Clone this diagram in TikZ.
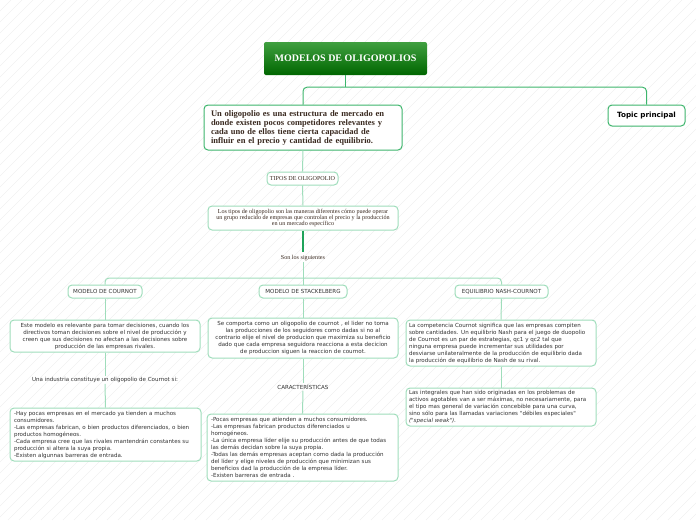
\documentclass[tikz,border=0pt]{standalone}
\usepackage{fontspec}
\setmainfont{Liberation Serif}
\newfontfamily\verd{DejaVu Sans}
\usetikzlibrary{positioning}
\definecolor{ink}{HTML}{3A2A20}
\definecolor{txt}{HTML}{333333}
\definecolor{mint}{HTML}{9FDDBB}
\definecolor{leaf}{HTML}{3DB56C}
\definecolor{deep}{HTML}{1FA35A}

\begin{document}
\begin{tikzpicture}[x=1pt, y=-1pt,
  hatch/.style={draw=black!6, line width=0.5pt},
  mainbox/.style={draw=leaf, line width=1pt, rounded corners=4pt, fill=white},
  subbox/.style={draw=mint, line width=1pt, rounded corners=4pt, fill=white, inner sep=2pt},
  sans/.style={font=\verd\fontsize{5.55}{7}\selectfont, text=txt},
  serifsmall/.style={font=\fontsize{6.1}{6}\selectfont, text=ink},
  link/.style={draw=mint, line width=1pt, rounded corners=4pt},
  toplink/.style={draw=leaf, line width=1pt, rounded corners=4pt}]
\useasboundingbox (0,0) rectangle (696,520);
\begin{scope}
\clip (0,0) rectangle (696,520);
\foreach \i in {0,11,...,1221} \draw[hatch] (\i,0) -- ++(-520,520);
\end{scope}

\node[rounded corners=2pt, top color=green!50!black!75!white, bottom color=green!40!black,
  minimum width=163pt, minimum height=33pt, text=white,
  font=\bfseries\fontsize{10}{11}\selectfont] (title) at (345.5,58.5) {MODELOS DE OLIGOPOLIOS};

\node[mainbox, text width=184pt, minimum width=198pt, minimum height=45pt, align=left,
  text=ink, font=\bfseries\fontsize{8.5}{9}\selectfont] (def) at (303,127.5)
  {Un oligopolio es una estructura de mercado en\\
   donde existen pocos competidores relevantes y\\
   cada uno de ellos tiene cierta capacidad de\\
   influir en el precio y cantidad de equilibrio.};
\node[mainbox, minimum width=77pt, minimum height=21pt,
  font=\verd\bfseries\fontsize{7.2}{8}\selectfont] (topic) at (646.5,115.5) {Topic principal};

\node[subbox, serifsmall, minimum width=71pt, minimum height=13pt] (tipos) at (302.5,178.5) {TIPOS DE OLIGOPOLIO};
\node[subbox, serifsmall, minimum width=190pt, minimum height=24pt, align=center] (lostipos) at (303,218)
  {Los tipos de oligopolio son las maneras diferentes cómo puede operar\\
   un grupo reducido de empresas que controlan el precio y la producción\\
   en un mercado específico};
\node[serifsmall, inner sep=1pt] (sonlos) at (303,258) {Son los siguientes};

\node[subbox, sans, minimum width=74pt, minimum height=13pt] (cournot) at (105,291.5) {MODELO DE COURNOT};
\node[subbox, sans, minimum width=88pt, minimum height=13pt] (stack) at (303,291.5) {MODELO DE STACKELBERG};
\node[subbox, sans, minimum width=93pt, minimum height=13pt] (nash) at (501.5,291.5) {EQUILIBRIO NASH-COURNOT};

\node[subbox, sans, text width=184pt, minimum width=190pt, minimum height=32pt, align=center] (cdesc) at (105,336)
  {Este modelo es relevante para tomar decisiones, cuando los\\
   directivos toman decisiones sobre el nivel de producción y\\
   creen que sus decisiones no afectan a las decisiones sobre\\
   producción de las empresas rivales.};
\node[sans, inner sep=1pt] (cind) at (105,380) {Una industria constituye un oligopolio de Cournot si:};
\node[subbox, sans, text width=183pt, minimum width=191pt, minimum height=53pt, align=left] (clist) at (105.5,434.5)
  {-Hay pocas empresas en el mercado ya tienden a muchos\\
   consumidores.\\
   -Las empresas fabrican, o bien productos diferenciados, o bien\\
   productos homogéneos.\\
   -Cada empresa cree que las rivales mantendrán constantes su\\
   producción si altera la suya propia.\\
   -Existen algunnas barreras de entrada.};

\node[subbox, sans, text width=184pt, minimum width=190pt, minimum height=40pt, align=center] (sdesc) at (303,338)
  {Se comporta como un oligopolio de cournot , el lider no toma\\
   las producciones de los seguidores como dadas si no al\\
   contrario elije el nivel de producion que maximiza su beneficio\\
   dado que cada empresa seguidora reacciona a esta decicion\\
   de produccion siguen la reaccion de cournot.};
\node[sans, inner sep=1pt] (scar) at (303,387) {CARACTERÍSTICAS};
\node[subbox, sans, text width=183pt, minimum width=191pt, minimum height=67pt, align=left] (slist) at (302.5,447.5)
  {-Pocas empresas que atienden a muchos consumidores.\\
   -Las empresas fabrican productos diferenciados u\\
   homogéneos.\\
   -La única empresa líder elije su producción antes de que todas\\
   las demás decidan sobre la suya propia.\\
   -Todas las demás empresas aceptan como dada la producción\\
   del líder y elige niveles de producción que minimizan sus\\
   beneficios dad la producción de la empresa líder.\\
   -Existen barreras de entrada .};

\node[subbox, sans, text width=184pt, minimum width=190pt, minimum height=46pt, align=left] (ndesc) at (501,343)
  {La competencia Cournot significa que las empresas compiten\\
   sobre cantidades. Un equilibrio Nash para el juego de duopolio\\
   de Cournot es un par de estrategias, qc1 y qc2 tal que\\
   ninguna empresa puede incrementar sus utilidades por\\
   desviarse unilateralmente de la producción de equilibrio dada\\
   la producción de equilibrio de Nash de su rival.};
\node[subbox, sans, text width=184pt, minimum width=190pt, minimum height=38pt, align=left] (nint) at (501,407)
  {Las integrales que han sido originadas en los problemas de\\
   activos agotables van a ser máximas, no necesariamente, para\\
   el tipo mas general de variación concebible para una curva,\\
   sino sólo para las llamadas variaciones "débiles especiales"\\
   \textit{("special weak")}.};

\coordinate (hub) at ([yshift=-12pt]title.south);
\coordinate (fork) at (303,278);
\draw[toplink] (title.south) -- (hub);
\draw[toplink] (def.north) |- (hub) -| (topic.north);
\draw[link] (def.south) -- (tipos.north);
\draw[link] (tipos.south) -- (lostipos.north);
\draw[draw=deep, line width=1.6pt] (lostipos.south) -- ([yshift=-21pt]lostipos.south);
\draw[link] (sonlos.south) -- (stack.north);
\draw[link] (cournot.north) |- (fork) -| (nash.north);
\draw[link] (cournot.south) -- (cdesc.north);
\draw[link] (cdesc.south) -- (cind.north);
\draw[link] (cind.south) -- (clist.north);
\draw[link] (stack.south) -- (sdesc.north);
\draw[link] (sdesc.south) -- (scar.north);
\draw[link] (scar.south) -- (slist.north);
\draw[link] (nash.south) -- (ndesc.north);
\draw[link] (ndesc.south) -- (nint.north);
\end{tikzpicture}
\end{document}
